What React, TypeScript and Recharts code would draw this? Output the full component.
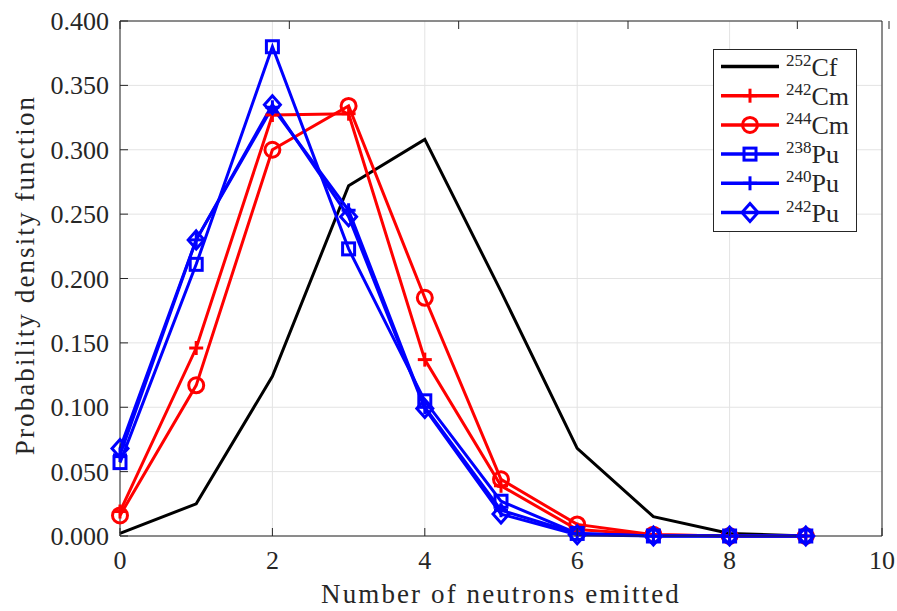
import { LineChart, Line, XAxis, YAxis, CartesianGrid, Legend } from 'recharts'

const neutrons = [0, 1, 2, 3, 4, 5, 6, 7, 8, 9]
const cf252 = [0.002, 0.025, 0.124, 0.272, 0.308, 0.190, 0.068, 0.015, 0.002, 0.0]
const cm242 = [0.019, 0.146, 0.327, 0.328, 0.137, 0.039, 0.005, 0.001, 0.0, 0.0]
const cm244 = [0.016, 0.117, 0.300, 0.334, 0.185, 0.044, 0.009, 0.001, 0.0, 0.0]
const pu238 = [0.057, 0.211, 0.380, 0.223, 0.105, 0.027, 0.002, 0.0, 0.0, 0.0]
const pu240 = [0.063, 0.230, 0.333, 0.253, 0.100, 0.020, 0.002, 0.0, 0.0, 0.0]
const pu242 = [0.068, 0.230, 0.335, 0.248, 0.099, 0.017, 0.001, 0.0, 0.0, 0.0]

const xTicks = [0, 2, 4, 6, 8, 10]
const yTicks = [0, 0.05, 0.1, 0.15, 0.2, 0.25, 0.3, 0.35, 0.4]

type Shape = 'none' | 'plus' | 'circle' | 'square' | 'diamond'

interface SeriesDef {
  key: string
  mass: string
  element: string
  color: string
  shape: Shape
  values: number[]
}

const series: SeriesDef[] = [
  { key: 'cf252', mass: '252', element: 'Cf', color: '#000000', shape: 'none', values: cf252 },
  { key: 'cm242', mass: '242', element: 'Cm', color: '#ff0000', shape: 'plus', values: cm242 },
  { key: 'cm244', mass: '244', element: 'Cm', color: '#ff0000', shape: 'circle', values: cm244 },
  { key: 'pu238', mass: '238', element: 'Pu', color: '#0000ff', shape: 'square', values: pu238 },
  { key: 'pu240', mass: '240', element: 'Pu', color: '#0000ff', shape: 'plus', values: pu240 },
  { key: 'pu242', mass: '242', element: 'Pu', color: '#0000ff', shape: 'diamond', values: pu242 },
]

const data = neutrons.map((n, i) => {
  const row: Record<string, number> = { n }
  series.forEach((s) => {
    row[s.key] = s.values[i]
  })
  return row
})

const FONT = "'Liberation Serif', 'Times New Roman', serif"
const AXIS = '#262626'
const GRID = '#e3e3e3'

function Marker({ shape, cx, cy, color }: { shape: Shape; cx: number; cy: number; color: string }) {
  const sw = 3
  if (shape === 'plus') {
    return (
      <g stroke={color} strokeWidth={sw} fill="none">
        <line x1={cx - 7} y1={cy} x2={cx + 7} y2={cy} />
        <line x1={cx} y1={cy - 7} x2={cx} y2={cy + 7} />
      </g>
    )
  }
  if (shape === 'circle') {
    return <circle cx={cx} cy={cy} r={7.5} stroke={color} strokeWidth={sw} fill="none" />
  }
  if (shape === 'square') {
    return <rect x={cx - 6} y={cy - 6} width={12} height={12} stroke={color} strokeWidth={sw} fill="none" />
  }
  if (shape === 'diamond') {
    return (
      <polygon
        points={`${cx},${cy - 9} ${cx + 8},${cy} ${cx},${cy + 9} ${cx - 8},${cy}`}
        stroke={color}
        strokeWidth={sw}
        fill="none"
      />
    )
  }
  return null
}

// inward ticks, labels placed by hand below / left of the frame
function BottomTick({ x, y, payload }: any) {
  return (
    <g>
      <line x1={x} y1={y} x2={x} y2={y - 8} stroke={AXIS} />
      <text x={x} y={y + 33} textAnchor="middle" fontFamily={FONT} fontSize={26} fill={AXIS}>
        {payload.value}
      </text>
    </g>
  )
}

function LeftTick({ x, y, payload }: any) {
  return (
    <g>
      <line x1={x} y1={y} x2={x + 8} y2={y} stroke={AXIS} />
      <text x={x - 11} y={y + 9} textAnchor="end" fontFamily={FONT} fontSize={26} fill={AXIS}>
        {Number(payload.value).toFixed(3)}
      </text>
    </g>
  )
}

function TopTick({ x, y }: any) {
  return <line x1={x} y1={y} x2={x} y2={y + 8} stroke={AXIS} />
}

function RightTick({ x, y }: any) {
  return <line x1={x} y1={y} x2={x - 8} y2={y} stroke={AXIS} />
}

function SeriesLegend() {
  return (
    <svg width={144} height={183} style={{ display: 'block' }}>
      <rect x={0.5} y={0.5} width={143} height={182} fill="#ffffff" stroke={AXIS} strokeWidth={1} />
      {series.map((s, i) => {
        const cy = 17.5 + i * 29.2
        return (
          <g key={s.key}>
            <line x1={8} y1={cy} x2={66} y2={cy} stroke={s.color} strokeWidth={3.5} />
            <Marker shape={s.shape} cx={37} cy={cy} color={s.color} />
            <text x={73} y={cy + 9} fontFamily={FONT} fill={AXIS}>
              <tspan fontSize={17} dy={-10}>{s.mass}</tspan>
              <tspan fontSize={26} dy={10}>{s.element}</tspan>
            </text>
          </g>
        )
      })}
    </svg>
  )
}

export default function App() {
  return (
    <div style={{ position: 'absolute', left: 0, top: 0, background: '#ffffff' }}>
      <LineChart
        width={897}
        height={611}
        data={data}
        margin={{ top: 20, right: 14, left: 119, bottom: 74 }}
      >
        <CartesianGrid stroke={GRID} strokeWidth={1} />
        <XAxis
          dataKey="n"
          type="number"
          domain={[0, 10]}
          ticks={xTicks}
          height={1}
          tickSize={0}
          tickMargin={0}
          tick={<BottomTick />}
          axisLine={{ stroke: AXIS }}
          tickLine={false}
        />
        <XAxis
          xAxisId="top"
          orientation="top"
          type="number"
          domain={[0, 10]}
          ticks={xTicks}
          height={1}
          tickSize={0}
          tickMargin={0}
          tick={<TopTick />}
          axisLine={{ stroke: AXIS }}
          tickLine={false}
        />
        <YAxis
          type="number"
          domain={[0, 0.4]}
          ticks={yTicks}
          width={1}
          tickSize={0}
          tickMargin={0}
          tick={<LeftTick />}
          axisLine={{ stroke: AXIS }}
          tickLine={false}
        />
        <YAxis
          yAxisId="right"
          orientation="right"
          type="number"
          domain={[0, 0.4]}
          ticks={yTicks}
          width={1}
          tickSize={0}
          tickMargin={0}
          tick={<RightTick />}
          axisLine={{ stroke: AXIS }}
          tickLine={false}
        />
        {series.map((s) => (
          <Line
            key={s.key}
            dataKey={s.key}
            type="linear"
            stroke={s.color}
            strokeWidth={3}
            isAnimationActive={false}
            dot={(p: any) => (
              <Marker key={`${s.key}-${p.index}`} shape={s.shape} cx={p.cx} cy={p.cy} color={s.color} />
            )}
            activeDot={false}
          />
        ))}
        <Legend
          layout="vertical"
          align="center"
          verticalAlign="middle"
          content={<SeriesLegend />}
          wrapperStyle={{ left: 713, top: 49, width: 144, height: 183 }}
        />
        <text x={501} y={603} textAnchor="middle" fontFamily={FONT} fontSize={27} letterSpacing={2.1} fill={AXIS}>
          Number of neutrons emitted
        </text>
        <text
          x={0}
          y={0}
          transform="translate(34, 275) rotate(-90)"
          textAnchor="middle"
          fontFamily={FONT}
          fontSize={27}
          letterSpacing={2.1}
          fill={AXIS}
        >
          Probability density function
        </text>
      </LineChart>
    </div>
  )
}
